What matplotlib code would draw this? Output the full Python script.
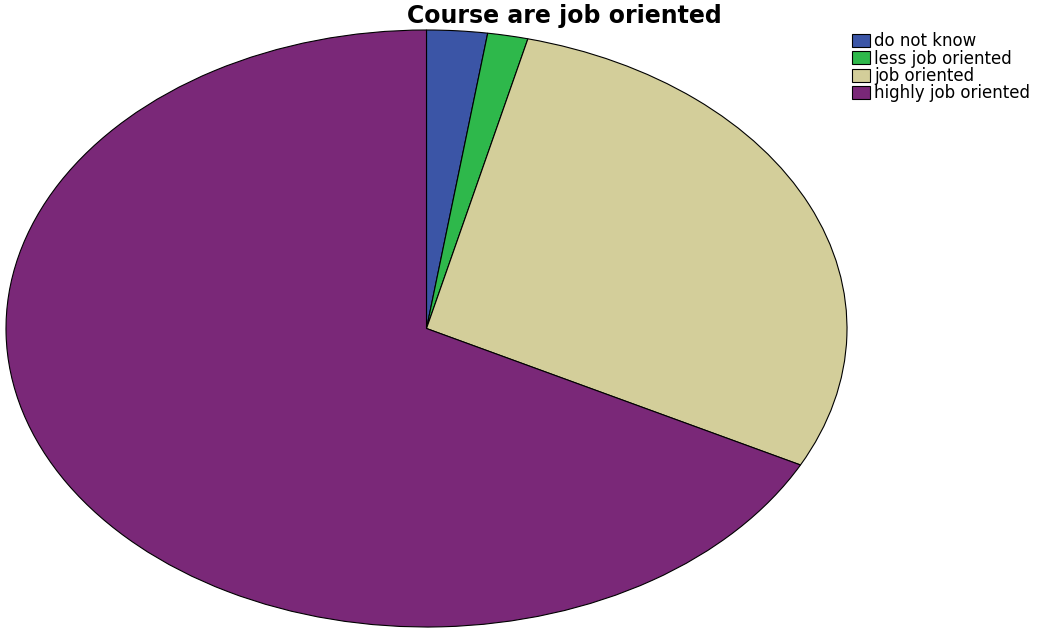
import matplotlib
matplotlib.use('Agg')

import matplotlib.pyplot as plt

categories = ['do not know', 'less job oriented', 'job oriented', 'highly job oriented']
counts = [3, 2, 37, 87]
colors = ['#3B55A6', '#2EB84B', '#D3CE9A', '#7A2878']

W, H = 1038, 630
plt.rcParams['font.family'] = ['DejaVu Sans']

fig = plt.figure(figsize=(W / 100, H / 100), dpi=100)
# pie stretched into an ellipse: axes box sets the two radii
ax = fig.add_axes([6 / W, 3 / H, 841 / W, 597 / H])

wedges, _ = ax.pie(counts, colors=colors, startangle=90, counterclock=False,
                   radius=1.0,
                   wedgeprops=dict(edgecolor='black', linewidth=0.8))
ax.set_aspect('auto')
ax.set_xlim(-1, 1)
ax.set_ylim(-1, 1)
ax.axis('off')

fig.text(564 / W, 1 - 16 / H, 'Course are job oriented',
         ha='center', va='center', fontsize=17, fontweight='bold')

fig.legend(wedges, categories, loc='upper left',
           bbox_to_anchor=(852 / W, 1 - 32 / H),
           frameon=False, fontsize=12,
           handlelength=1.05, handleheight=0.85, handletextpad=0.3,
           labelspacing=-0.03, borderpad=0, borderaxespad=0)

fig.savefig('out.png', dpi=100, facecolor='white')
